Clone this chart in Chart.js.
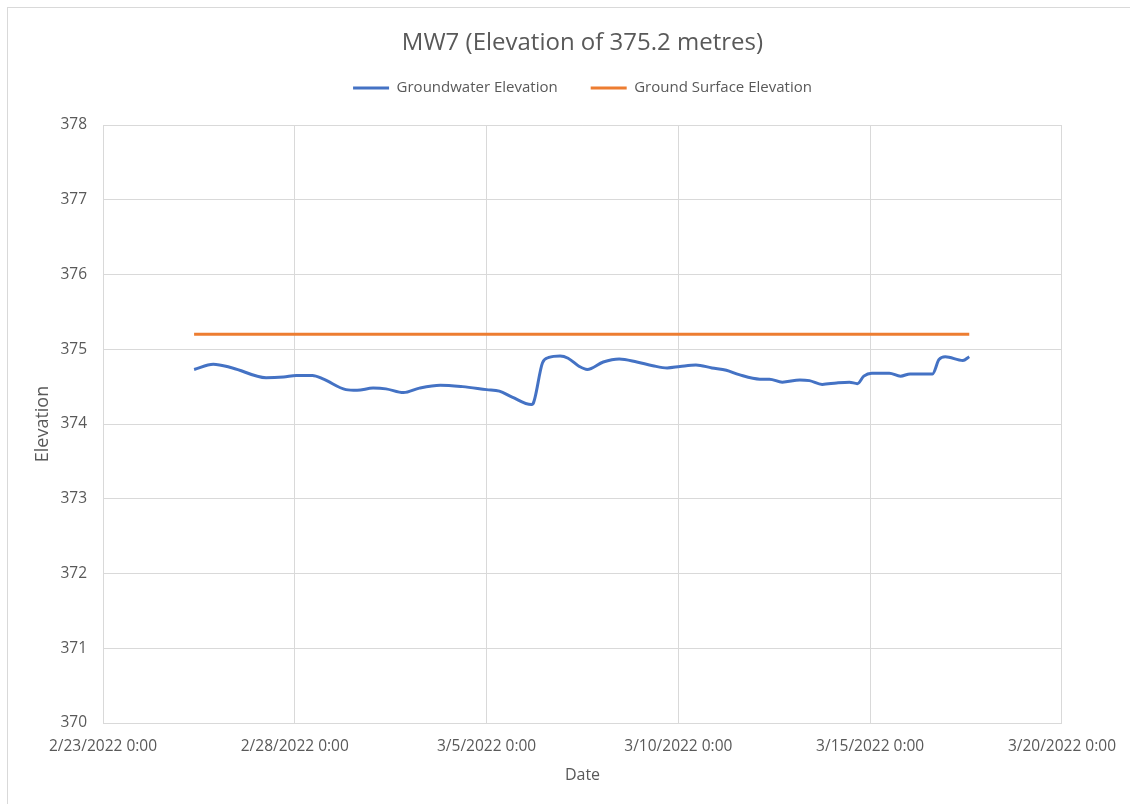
<!DOCTYPE html>
<html>
<head>
<meta charset="utf-8">
<title>MW7</title>
<script src="https://cdn.jsdelivr.net/npm/chart.js@4/dist/chart.umd.min.js"></script>
<style>
    html, body { margin: 0; padding: 0; background: #fff; overflow: hidden; }
    #marco { position: absolute; left: 7px; top: 7px; width: 1300px; height: 1000px; border: 1px solid #d9d9d9; }
    #grafico { position: absolute; left: 0; top: 0; }
</style>
</head>
<body>
<div id="marco"></div>
<canvas id="grafico" width="1130" height="804"></canvas>
<script>
// Datos
const fechasNivel = [
    "2022-02-25T09:00", "2022-02-25T21:00", "2022-02-26T09:00", "2022-02-27T06:00", "2022-02-27T17:00",
    "2022-02-28T01:00", "2022-02-28T11:00", "2022-02-28T18:00", "2022-03-01T08:00", "2022-03-01T15:00",
    "2022-03-02T01:00", "2022-03-02T09:00", "2022-03-02T20:00", "2022-03-03T06:00", "2022-03-03T19:00",
    "2022-03-04T09:00", "2022-03-05T00:00", "2022-03-05T08:00", "2022-03-05T16:00", "2022-03-06T04:00",
    "2022-03-06T05:00", "2022-03-06T11:00", "2022-03-06T15:00", "2022-03-06T22:00", "2022-03-07T03:00",
    "2022-03-07T10:00", "2022-03-07T15:00", "2022-03-08T01:00", "2022-03-08T11:00", "2022-03-08T22:00",
    "2022-03-09T08:00", "2022-03-09T17:00", "2022-03-10T01:00", "2022-03-10T11:00", "2022-03-10T21:00",
    "2022-03-11T06:00", "2022-03-11T14:00", "2022-03-12T03:00", "2022-03-12T09:00", "2022-03-12T17:00",
    "2022-03-13T04:00", "2022-03-13T10:00", "2022-03-13T18:00", "2022-03-14T03:00", "2022-03-14T11:00",
    "2022-03-14T16:00", "2022-03-14T20:00", "2022-03-15T01:00", "2022-03-15T12:00", "2022-03-15T19:00",
    "2022-03-16T01:00", "2022-03-16T15:00", "2022-03-16T19:00", "2022-03-16T23:00", "2022-03-17T10:00",
    "2022-03-17T14:00"
];
const nivelFreatico = [
    374.73, 374.80, 374.75, 374.62, 374.63,
    374.65, 374.65, 374.60, 374.46, 374.45,
    374.48, 374.47, 374.42, 374.48, 374.52,
    374.50, 374.46, 374.44, 374.36, 374.26,
    374.27, 374.82, 374.89, 374.91, 374.88,
    374.77, 374.73, 374.83, 374.87, 374.83,
    374.78, 374.75, 374.77, 374.79, 374.75,
    374.72, 374.66, 374.60, 374.60, 374.56,
    374.59, 374.58, 374.53, 374.55, 374.56,
    374.54, 374.64, 374.68, 374.68, 374.64,
    374.67, 374.67, 374.86, 374.90, 374.85,
    374.90
];
const fechasSuperficie = ["2022-02-25T09:00", "2022-03-17T14:00"];
const nivelSuperficie = [375.2, 375.2];

const fechaInicio = "2022-02-23T00:00";
const fechaFin = "2022-03-20T00:00";
const diasEntreMarcas = 5;
const elevMin = 370;
const elevMax = 378;

const GRIS_TEXTO = "#595959";
const GRIS_REJILLA = "#d9d9d9";
const FUENTE = "'Open Sans', sans-serif";

const aMs = s => Date.parse(s + ":00Z");
const puntos = (fechas, valores) => fechas.map((f, i) => ({ x: aMs(f), y: valores[i] }));

// Formato de fecha tipo Excel: 2/23/2022 0:00
function formatoFecha(valor) {
    const d = new Date(valor);
    const min = String(d.getUTCMinutes()).padStart(2, "0");
    return `${d.getUTCMonth() + 1}/${d.getUTCDate()}/${d.getUTCFullYear()} ${d.getUTCHours()}:${min}`;
}

new Chart(document.getElementById("grafico"), {
    type: "line",
    data: {
        datasets: [
            {
                label: "Groundwater Elevation",
                data: puntos(fechasNivel, nivelFreatico),
                borderColor: "#4472C4",
                backgroundColor: "#4472C4",
                borderWidth: 3,
                pointRadius: 0,
                cubicInterpolationMode: "monotone"
            },
            {
                label: "Ground Surface Elevation",
                data: puntos(fechasSuperficie, nivelSuperficie),
                borderColor: "#ED7D31",
                backgroundColor: "#ED7D31",
                borderWidth: 3,
                pointRadius: 0
            }
        ]
    },
    options: {
        responsive: false,
        animation: false,
        layout: { padding: { left: 0, right: 65, top: 0, bottom: 0 } },
        plugins: {
            title: {
                display: true,
                text: "MW7 (Elevation of 375.2 metres)",
                color: GRIS_TEXTO,
                fullSize: false,
                weight: 2000,
                font: { family: FUENTE, size: 24, weight: "normal", lineHeight: 1.2 },
                padding: { top: 28.6, bottom: -9.9 }
            },
            legend: {
                position: "top",
                fullSize: false,
                weight: 1500,
                labels: {
                    color: GRIS_TEXTO,
                    font: { family: FUENTE, size: 15 },
                    usePointStyle: true,
                    pointStyle: "line",
                    pointStyleWidth: 36,
                    padding: 33
                }
            },
            // separador vacío entre la leyenda y el área del gráfico
            subtitle: {
                display: true,
                text: "",
                fullSize: false,
                weight: 1000,
                font: { family: FUENTE, size: 10, lineHeight: 1 },
                padding: { top: 9.5, bottom: 0 }
            },
            tooltip: { enabled: false }
        },
        scales: {
            x: {
                type: "linear",
                min: aMs(fechaInicio),
                max: aMs(fechaFin),
                afterFit: scale => { scale.height = 81; },
                ticks: {
                    stepSize: diasEntreMarcas * 86400000,
                    callback: v => formatoFecha(v),
                    color: GRIS_TEXTO,
                    font: { family: FUENTE, size: 15.5 },
                    padding: 14,
                    maxRotation: 0,
                    autoSkip: false
                },
                grid: { color: GRIS_REJILLA, drawTicks: false, lineWidth: 1 },
                border: { color: GRIS_REJILLA, width: 1 },
                title: {
                    display: true,
                    text: "Date",
                    color: GRIS_TEXTO,
                    font: { family: FUENTE, size: 16, lineHeight: 1.2 },
                    padding: { top: 0, bottom: 19.4 }
                }
            },
            y: {
                min: elevMin,
                max: elevMax,
                afterFit: scale => { scale.width = 103; },
                ticks: {
                    stepSize: 1,
                    color: GRIS_TEXTO,
                    font: { family: FUENTE, size: 15.5 },
                    padding: 16
                },
                grid: { color: GRIS_REJILLA, drawTicks: false, lineWidth: 1 },
                border: { color: GRIS_REJILLA, width: 1 },
                title: {
                    display: true,
                    text: "Elevation",
                    color: GRIS_TEXTO,
                    font: { family: FUENTE, size: 18, lineHeight: 1.2 },
                    padding: { top: 32, bottom: 0 }
                }
            }
        }
    }
});
</script>
</body>
</html>
